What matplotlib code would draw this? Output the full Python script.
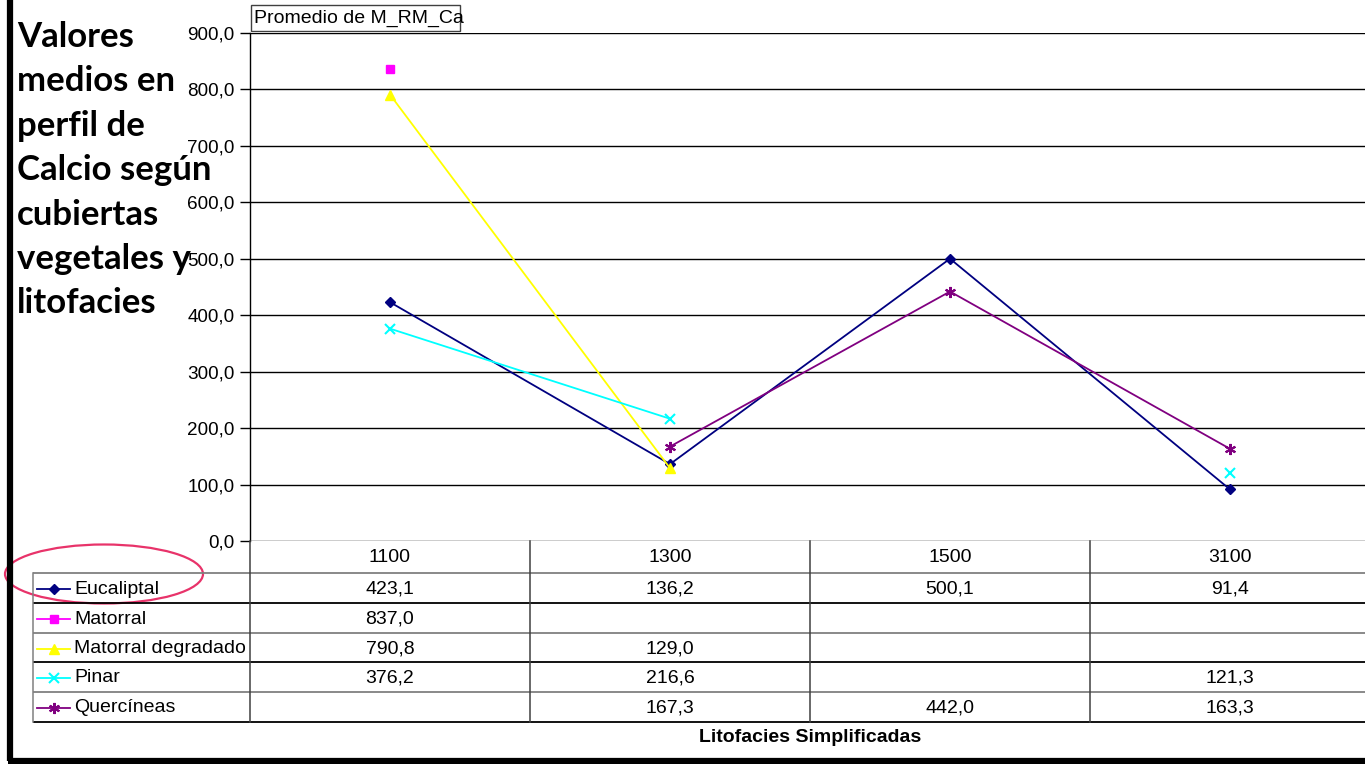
import matplotlib
matplotlib.use("Agg")
import matplotlib.pyplot as plt
import numpy as np
from matplotlib.patches import Ellipse, Rectangle
from matplotlib.lines import Line2D

categories = ["1100", "1300", "1500", "3100"]
series_names = ["Eucaliptal", "Matorral", "Matorral degradado", "Pinar", "Quercíneas"]
eucaliptal = [423.1, 136.2, 500.1, 91.4]
matorral = [837.0, np.nan, np.nan, np.nan]
matorral_degradado = [790.8, 129.0, np.nan, np.nan]
pinar = [376.2, 216.6, np.nan, 121.3]
quercineas = [np.nan, 167.3, 442.0, 163.3]
series_values = [eucaliptal, matorral, matorral_degradado, pinar, quercineas]
yticks = [0, 100, 200, 300, 400, 500, 600, 700, 800, 900]

colors = ["#000080", "#FF00FF", "#FFFF00", "#00FFFF", "#800080"]
markers = ["D", "s", "^", "x", (6, 2, 0)]
msizes = [5, 6, 7, 7, 8]

plt.rcParams['font.family'] = ['Liberation Sans', 'DejaVu Sans']

W, H = 1365, 764
fig = plt.figure(figsize=(W / 100, H / 100), dpi=100)

def fx(px):
    return px / W

def fy(py):
    return 1 - py / H

# main plot axes
x0, x1 = 250, 1370
y0, y1 = 33, 541
ax = fig.add_axes([fx(x0), fy(y1), (x1 - x0) / W, (y1 - y0) / H])
ax.set_xlim(0, len(categories))
ax.set_ylim(0, 900)
xs = np.arange(len(categories)) + 0.5
for name, vals, c, m, ms in zip(series_names, series_values, colors, markers, msizes):
    mew = 1.5 if m in ("x", (6, 2, 0)) else 1
    ax.plot(xs, vals, color=c, marker=m, markersize=ms, lw=1.3,
            markeredgewidth=mew, zorder=3, clip_on=False)
ax.set_yticks(yticks)
ax.set_yticklabels([f"{v:.1f}".replace(".", ",") for v in yticks], fontsize=13.6)
ax.set_xticks([])
ax.grid(axis='y', color='black', lw=1)
ax.set_axisbelow(True)
for s in ['top', 'right', 'bottom']:
    ax.spines[s].set_visible(False)
ax.spines['left'].set_color('black')
ax.spines['left'].set_linewidth(1)
ax.tick_params(axis='y', length=7, width=1, direction='out', pad=4, colors='black')

# overlay axes in pixel coordinates
ov = fig.add_axes([0, 0, 1, 1])
ov.set_xlim(0, W)
ov.set_ylim(H, 0)
ov.axis('off')

FS = 14

# table
col_x = [250, 530, 810, 1090, 1370]
row_y = [541, 573, 603, 633, 662, 692, 722]
gc = '#404040'
for i, yy in enumerate(row_y[1:]):
    ov.plot([33, W], [yy, yy], color=('#808080' if i % 2 == 0 else 'black'), lw=1.3, solid_capstyle='butt')
for xx in col_x[:-1]:
    ov.plot([xx, xx], [541, 722], color=gc, lw=1.1)
ov.plot([33, 33], [573, 722], color='#808080', lw=1.1)

for j, cat in enumerate(categories):
    cx = (col_x[j] + col_x[j + 1]) / 2
    ov.text(cx, (row_y[0] + row_y[1]) / 2 + 1, cat, ha='center', va='center', fontsize=FS)
for i, (name, vals, c, m, ms) in enumerate(zip(series_names, series_values, colors, markers, msizes)):
    cy = (row_y[i + 1] + row_y[i + 2]) / 2 + 1
    mew = 1.5 if m in ("x", (6, 2, 0)) else 1
    ov.add_line(Line2D([37, 70], [cy, cy], color=c, lw=1.3, marker=None))
    ov.add_line(Line2D([53.5], [cy], color=c, marker=m, markersize=ms, markeredgewidth=mew, lw=0))
    ov.text(74, cy, name, ha='left', va='center', fontsize=FS)
    for j, v in enumerate(vals):
        if not np.isnan(v):
            cx = (col_x[j] + col_x[j + 1]) / 2
            ov.text(cx, cy, f"{v:.1f}".replace(".", ","), ha='center', va='center', fontsize=FS)

ov.text(810, 738, "Litofacies Simplificadas", ha='center', va='center', fontsize=FS, fontweight='bold')

# field button
ov.add_patch(Rectangle((251, 5), 209, 26, fill=True, facecolor='white', edgecolor='#404040', lw=1))
ov.text(254, 18.5, "Promedio de M_RM_Ca", ha='left', va='center', fontsize=FS)

# title
title_lines = ["Valores", "medios en", "perfil de", "Calcio según", "cubiertas", "vegetales y", "litofacies"]
for k, t in enumerate(title_lines):
    ov.text(17, 37 + k * 44.4, t, ha='left', va='center', fontsize=25,
            family=['Lato', 'DejaVu Sans'], fontweight='bold', zorder=1)

# ellipse
ov.add_patch(Ellipse((104, 574), 198, 59, fill=False, edgecolor='#E8336A', lw=1.6))

# borders
ov.plot([10, 10], [0, 761], color='black', lw=4.5, solid_capstyle='butt')
ov.plot([8, W], [760.5, 760.5], color='black', lw=4.5, solid_capstyle='butt')

fig.savefig("out.png", dpi=100)
